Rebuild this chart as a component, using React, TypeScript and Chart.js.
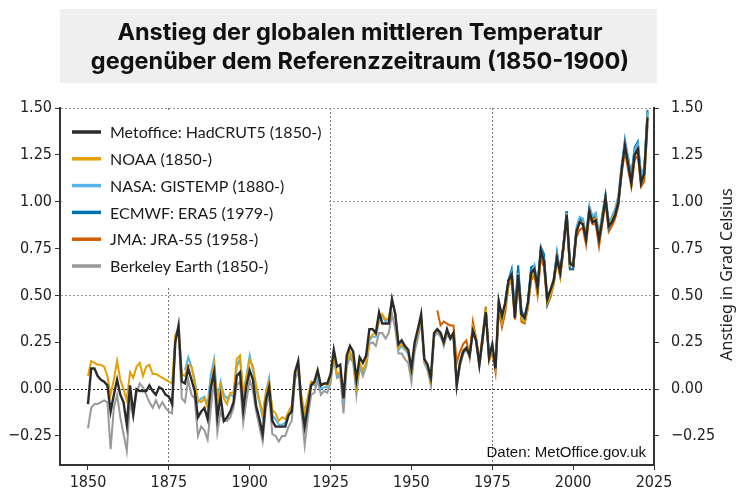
import React, { useEffect, useRef } from 'react';
import { Chart, registerables } from 'chart.js';

Chart.register(...registerables);

// ---------- data (anomalies vs. 1850-1900, °C) ----------
const seriesLabels = [
  'Metoffice: HadCRUT5 (1850-)',
  'NOAA (1850-)',
  'NASA: GISTEMP (1880-)',
  'ECMWF: ERA5 (1979-)',
  'JMA: JRA-55 (1958-)',
  'Berkeley Earth (1850-)',
];
const seriesColors = ['#2b2b2b', '#E69F00', '#56B4E9', '#0072B2', '#D55E00', '#999999'];
const seriesStartYears = [1850, 1850, 1880, 1979, 1958, 1850];

const hadcrut5 = [
  -0.08, 0.11, 0.11, 0.07, 0.05, 0.04, 0.02, -0.12, -0.03, 0.05,
  -0.03, -0.07, -0.19, 0.02, -0.13, 0.00, -0.01, -0.01, -0.01, 0.02,
  -0.01, -0.03, 0.01, 0.00, -0.03, -0.04, -0.08, 0.25, 0.34, 0.04,
  0.03, 0.11, 0.05, -0.01, -0.15, -0.12, -0.10, -0.16, 0.01, 0.09,
  -0.15, -0.04, -0.17, -0.15, -0.12, -0.07, 0.07, 0.09, -0.11, 0.02,
  0.10, 0.05, -0.09, -0.16, -0.24, -0.06, 0.01, -0.17, -0.20, -0.20,
  -0.20, -0.20, -0.14, -0.12, 0.09, 0.15, -0.08, -0.20, -0.09, 0.02,
  0.04, 0.10, 0.02, 0.03, 0.03, 0.08, 0.21, 0.12, 0.13, -0.05,
  0.18, 0.23, 0.20, 0.05, 0.17, 0.14, 0.18, 0.32, 0.32, 0.30,
  0.41, 0.35, 0.35, 0.35, 0.48, 0.40, 0.24, 0.26, 0.23, 0.21,
  0.11, 0.25, 0.32, 0.40, 0.16, 0.13, 0.06, 0.30, 0.32, 0.30,
  0.25, 0.32, 0.27, 0.30, 0.02, 0.14, 0.20, 0.22, 0.18, 0.31,
  0.26, 0.13, 0.27, 0.41, 0.17, 0.24, 0.11, 0.47, 0.39, 0.46,
  0.58, 0.61, 0.38, 0.61, 0.40, 0.38, 0.46, 0.62, 0.64, 0.54,
  0.74, 0.68, 0.48, 0.53, 0.58, 0.70, 0.62, 0.76, 0.93, 0.67,
  0.66, 0.84, 0.89, 0.88, 0.80, 0.95, 0.89, 0.90, 0.80, 0.90,
  1.02, 0.87, 0.89, 0.93, 1.00, 1.17, 1.30, 1.20, 1.10, 1.25,
  1.28, 1.10, 1.15, 1.45,
];

const noaa = [
  0.07, 0.15, 0.14, 0.13, 0.13, 0.12, 0.07, -0.03, 0.05, 0.15,
  0.05, 0.00, -0.06, 0.09, 0.06, 0.12, 0.14, 0.07, 0.12, 0.13,
  0.08, 0.08, 0.07, 0.06, 0.05, 0.04, 0.03, 0.29, 0.32, 0.08,
  0.07, 0.13, 0.12, 0.03, -0.06, -0.07, -0.05, -0.10, 0.02, 0.13,
  -0.08, 0.02, -0.05, -0.08, -0.02, -0.02, 0.16, 0.18, -0.02, 0.06,
  0.16, 0.12, 0.02, -0.06, -0.13, -0.02, 0.04, -0.11, -0.13, -0.17,
  -0.15, -0.16, -0.12, -0.09, 0.08, 0.13, -0.04, -0.12, -0.04, 0.04,
  0.03, 0.10, 0.02, 0.03, 0.02, 0.06, 0.18, 0.08, 0.09, -0.04,
  0.14, 0.20, 0.16, 0.01, 0.14, 0.10, 0.14, 0.27, 0.29, 0.30,
  0.36, 0.40, 0.37, 0.38, 0.47, 0.41, 0.22, 0.24, 0.22, 0.20,
  0.09, 0.24, 0.30, 0.38, 0.15, 0.12, 0.04, 0.29, 0.31, 0.30,
  0.24, 0.31, 0.28, 0.30, 0.04, 0.14, 0.21, 0.22, 0.19, 0.33,
  0.27, 0.15, 0.27, 0.43, 0.16, 0.22, 0.12, 0.45, 0.36, 0.44,
  0.55, 0.59, 0.38, 0.60, 0.37, 0.36, 0.44, 0.59, 0.63, 0.51,
  0.72, 0.67, 0.46, 0.50, 0.56, 0.70, 0.60, 0.76, 0.93, 0.66,
  0.66, 0.84, 0.89, 0.89, 0.80, 0.95, 0.90, 0.91, 0.80, 0.91,
  1.02, 0.87, 0.90, 0.94, 1.01, 1.17, 1.29, 1.21, 1.09, 1.25,
  1.28, 1.11, 1.14, 1.45,
];

const gistemp = [
  0.10, 0.17, 0.12, 0.05, -0.07, -0.05, -0.04, -0.08, 0.08, 0.16,
  -0.06, 0.04, -0.03, -0.05, -0.03, -0.04, 0.12, 0.16, -0.03, 0.07,
  0.18, 0.10, 0.00, -0.07, -0.15, -0.02, 0.06, -0.14, -0.16, -0.19,
  -0.19, -0.18, -0.13, -0.10, 0.10, 0.12, -0.06, -0.15, -0.05, 0.03,
  0.02, 0.08, 0.00, 0.01, 0.01, 0.06, 0.17, 0.07, 0.08, -0.06,
  0.14, 0.19, 0.15, 0.00, 0.13, 0.09, 0.13, 0.26, 0.28, 0.28,
  0.36, 0.39, 0.36, 0.38, 0.48, 0.40, 0.21, 0.23, 0.21, 0.19,
  0.08, 0.23, 0.30, 0.39, 0.14, 0.11, 0.03, 0.28, 0.31, 0.29,
  0.23, 0.31, 0.28, 0.29, 0.05, 0.13, 0.19, 0.22, 0.18, 0.32,
  0.26, 0.14, 0.25, 0.43, 0.16, 0.22, 0.12, 0.45, 0.36, 0.45,
  0.56, 0.62, 0.38, 0.62, 0.38, 0.36, 0.45, 0.61, 0.66, 0.52,
  0.75, 0.69, 0.47, 0.51, 0.57, 0.72, 0.62, 0.77, 0.94, 0.68,
  0.66, 0.86, 0.92, 0.91, 0.82, 0.98, 0.92, 0.94, 0.82, 0.93,
  1.04, 0.89, 0.92, 0.96, 1.03, 1.20, 1.32, 1.24, 1.12, 1.28,
  1.31, 1.14, 1.18, 1.48,
];

const era5 = [
  0.47, 0.58, 0.64, 0.42, 0.66, 0.42, 0.38, 0.46, 0.65, 0.66,
  0.55, 0.76, 0.72, 0.45, 0.50, 0.58, 0.73, 0.62, 0.77, 0.95,
  0.64, 0.64, 0.84, 0.91, 0.89, 0.82, 0.95, 0.91, 0.92, 0.80,
  0.92, 1.03, 0.86, 0.90, 0.93, 0.99, 1.17, 1.33, 1.23, 1.14,
  1.29, 1.32, 1.14, 1.18, 1.49,
];

const jra55 = [
  0.42, 0.34, 0.36, 0.35, 0.34, 0.34, 0.14, 0.20, 0.24, 0.26,
  0.17, 0.36, 0.27, 0.14, 0.29, 0.44, 0.15, 0.20, 0.09, 0.42,
  0.33, 0.41, 0.55, 0.58, 0.37, 0.59, 0.36, 0.35, 0.43, 0.58,
  0.61, 0.50, 0.70, 0.65, 0.45, 0.49, 0.56, 0.69, 0.60, 0.74,
  0.92, 0.64, 0.64, 0.81, 0.85, 0.86, 0.77, 0.93, 0.88, 0.88,
  0.76, 0.88, 1.00, 0.84, 0.87, 0.91, 0.98, 1.15, 1.27, 1.17,
  1.08, 1.22, 1.25, 1.08, 1.11, 1.41,
];

const berkeley = [
  -0.21, -0.10, -0.08, -0.08, -0.07, -0.06, -0.07, -0.32, -0.10, -0.03,
  -0.15, -0.24, -0.33, -0.06, -0.15, -0.02, 0.03, 0.01, -0.03, -0.07,
  -0.10, -0.06, -0.10, -0.07, -0.10, -0.12, -0.13, 0.27, 0.31, -0.05,
  -0.07, 0.05, -0.03, -0.05, -0.25, -0.20, -0.22, -0.27, -0.10, 0.05,
  -0.23, -0.12, -0.17, -0.17, -0.15, -0.10, 0.02, 0.04, -0.18, -0.06,
  0.05, -0.01, -0.12, -0.20, -0.28, -0.10, -0.03, -0.24, -0.25, -0.28,
  -0.25, -0.25, -0.20, -0.17, 0.05, 0.10, -0.12, -0.30, -0.15, -0.03,
  -0.02, 0.05, -0.03, -0.01, -0.02, 0.03, 0.17, 0.06, 0.07, -0.13,
  0.12, 0.17, 0.14, -0.03, 0.12, 0.07, 0.12, 0.24, 0.25, 0.23,
  0.30, 0.30, 0.27, 0.30, 0.40, 0.32, 0.19, 0.19, 0.16, 0.14,
  0.04, 0.20, 0.27, 0.36, 0.14, 0.10, 0.02, 0.28, 0.30, 0.28,
  0.24, 0.29, 0.27, 0.27, 0.01, 0.12, 0.19, 0.21, 0.17, 0.31,
  0.25, 0.12, 0.25, 0.42, 0.17, 0.23, 0.12, 0.46, 0.38, 0.46,
  0.56, 0.61, 0.40, 0.62, 0.41, 0.39, 0.46, 0.63, 0.65, 0.53,
  0.74, 0.70, 0.49, 0.53, 0.59, 0.72, 0.61, 0.77, 0.95, 0.68,
  0.67, 0.85, 0.91, 0.91, 0.82, 0.97, 0.92, 0.94, 0.82, 0.93,
  1.03, 0.88, 0.92, 0.96, 1.03, 1.19, 1.31, 1.23, 1.13, 1.27,
  1.30, 1.13, 1.17, 1.48,
];

const seriesValues = [hadcrut5, noaa, gistemp, era5, jra55, berkeley];

const xTickStep = 25;
const yTickStep = 0.25;
const xMin = 1841.35;
const xMax = 2025;
const yMin = -0.405;
const yMax = 1.5;
const xGridYears = [1875, 1925, 1975];
const yGridValues = [0.5, 1.0, 1.5];

const titleLines = [
  'Anstieg der globalen mittleren Temperatur',
  'gegenüber dem Referenzzeitraum (1850-1900)',
];
const yAxisTitle = 'Anstieg in Grad Celsius';
const sourceText = 'Daten: MetOffice.gov.uk';

const TICK_FONT = "'DejaVu Sans Condensed', 'DejaVu Sans', sans-serif";

function fmtY(v: number): string {
  const s = Math.abs(v).toFixed(2);
  return v < -1e-9 ? '\u2212' + s : s;
}

const decorPlugin = {
  id: 'decor',
  beforeDraw(chart: any) {
    const ctx = chart.ctx;
    ctx.save();
    ctx.fillStyle = '#ffffff';
    ctx.fillRect(0, 0, chart.width, chart.height);
    // title box
    ctx.fillStyle = '#efefef';
    ctx.fillRect(60, 9, 597, 74);
    ctx.fillStyle = '#111111';
    ctx.font = "bold 23.5px Inter, 'Noto Sans', sans-serif";
    ctx.textAlign = 'center';
    ctx.textBaseline = 'middle';
    ctx.fillText(titleLines[0], 360, 33);
    ctx.fillText(titleLines[1], 360, 62);
    ctx.restore();
  },
  afterDraw(chart: any) {
    const ctx = chart.ctx;
    const area = chart.chartArea;
    ctx.save();
    // legend
    ctx.fillStyle = '#ffffff';
    ctx.fillRect(area.left + 2, area.top + 2, 267, 176);
    ctx.font = "16px Lato, 'Noto Sans', sans-serif";
    ctx.textAlign = 'left';
    ctx.textBaseline = 'middle';
    chart.data.datasets.forEach((ds: any, i: number) => {
      const y = area.top + 24 + i * 26.8;
      ctx.strokeStyle = ds.borderColor;
      ctx.lineWidth = 3.5;
      ctx.beginPath();
      ctx.moveTo(area.left + 12, y);
      ctx.lineTo(area.left + 41, y);
      ctx.stroke();
      ctx.fillStyle = '#1a1a1a';
      ctx.fillText(ds.label, area.left + 50, y + 1);
    });
    // source note
    ctx.font = "15px 'Liberation Sans', Arial, sans-serif";
    ctx.textAlign = 'right';
    ctx.textBaseline = 'alphabetic';
    ctx.fillStyle = '#111111';
    ctx.fillText(sourceText, area.right - 8, area.bottom - 8);
    // right axis title (reads bottom to top)
    ctx.translate(727, (area.top + area.bottom) / 2 - 12);
    ctx.rotate(-Math.PI / 2);
    ctx.font = "16px 'Noto Sans', 'DejaVu Sans', sans-serif";
    ctx.textAlign = 'center';
    ctx.textBaseline = 'middle';
    ctx.fillStyle = '#222222';
    ctx.fillText(yAxisTitle, 0, 0);
    ctx.restore();
  },
};

export default function App() {
  const canvasRef = useRef<HTMLCanvasElement | null>(null);

  useEffect(() => {
    document.body.style.margin = '0';
    const canvas = canvasRef.current;
    if (!canvas) return;

    const datasets = seriesLabels.map((label, i) => ({
      label,
      data: seriesValues[i].map((v, k) => ({ x: seriesStartYears[i] + k, y: v })),
      borderColor: seriesColors[i],
      backgroundColor: seriesColors[i],
      borderWidth: i === 0 ? 2.4 : 2,
      pointRadius: 0,
      tension: 0,
      fill: false,
    }));

    const yGridColor = (c: any) => {
      const v = c.tick ? c.tick.value : null;
      if (v === null) return 'rgba(0,0,0,0)';
      if (Math.abs(v) < 1e-9) return '#222222';
      return yGridValues.some((g) => Math.abs(g - v) < 1e-9) ? '#9a9a9a' : 'rgba(0,0,0,0)';
    };
    const xGridColor = (c: any) => {
      const v = c.tick ? c.tick.value : null;
      return v !== null && xGridYears.includes(Math.round(v)) ? '#777777' : 'rgba(0,0,0,0)';
    };

    const chart = new Chart(canvas, {
      type: 'line',
      data: { datasets },
      plugins: [decorPlugin],
      options: {
        animation: false,
        responsive: false,
        maintainAspectRatio: false,
        layout: { padding: { top: 108, left: 0, right: 0, bottom: 0 } },
        plugins: {
          legend: { display: false },
          title: { display: false },
          tooltip: { enabled: false },
        },
        scales: {
          x: {
            type: 'linear',
            min: xMin,
            max: xMax,
            ticks: {
              stepSize: xTickStep,
              includeBounds: false,
              autoSkip: false,
              maxRotation: 0,
              padding: 3,
              color: '#222222',
              font: { family: TICK_FONT, size: 16 },
              callback: (v: any) => String(Math.round(v)),
            },
            grid: {
              color: xGridColor,
              lineWidth: 1,
              tickColor: '#333333',
              tickLength: 5,
              drawTicks: true,
            },
            border: { display: true, color: '#333333', width: 2, dash: [2, 2] },
            afterFit: (s: any) => { s.height = 35; },
          },
          y: {
            type: 'linear',
            position: 'left',
            min: yMin,
            max: yMax,
            ticks: {
              stepSize: yTickStep,
              includeBounds: false,
              padding: 3,
              color: '#222222',
              font: { family: TICK_FONT, size: 16 },
              callback: (v: any) => fmtY(Number(v)),
            },
            grid: {
              color: yGridColor,
              lineWidth: 1,
              tickColor: '#333333',
              tickLength: 5,
            },
            border: { display: true, color: '#333333', width: 2, dash: [2, 2] },
            afterFit: (s: any) => { s.width = 60; },
          },
          y2: {
            type: 'linear',
            position: 'right',
            min: yMin,
            max: yMax,
            ticks: {
              stepSize: yTickStep,
              includeBounds: false,
              padding: 12,
              color: '#222222',
              font: { family: TICK_FONT, size: 16 },
              callback: (v: any) => fmtY(Number(v)),
            },
            grid: {
              drawOnChartArea: false,
              tickColor: '#333333',
              tickLength: 5,
            },
            border: { display: true, color: '#333333', width: 2 },
            afterFit: (s: any) => { s.width = 96; },
          },
        },
      },
    });

    return () => chart.destroy();
  }, []);

  return (
    <div style={{ width: 750, height: 500 }}>
      <canvas ref={canvasRef} width={750} height={500} style={{ display: 'block', width: 750, height: 500 }} />
    </div>
  );
}
